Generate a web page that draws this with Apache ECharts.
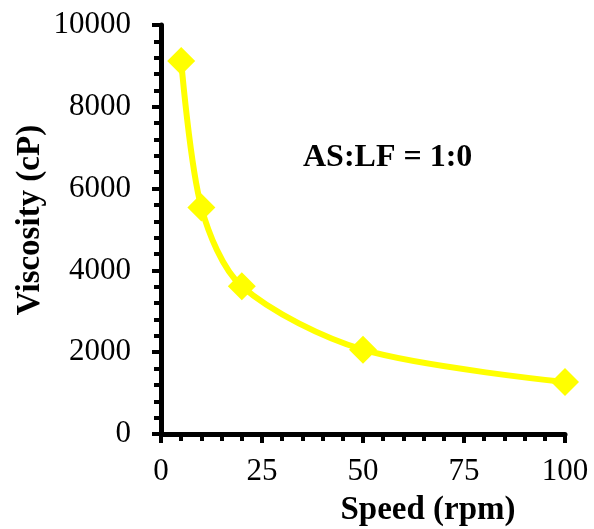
<!DOCTYPE html>
<html>
<head>
<meta charset="utf-8">
<script src="https://cdn.jsdelivr.net/npm/echarts@6/dist/echarts.min.js"></script>
<style>
  html, body { margin: 0; padding: 0; background: #fff; }
  #chart { width: 594px; height: 529px; }
</style>
</head>
<body>
<div id="chart"></div>
<script>
// speed (rpm) vs viscosity (cP)
var speeds = [5, 10, 20, 50, 100];
var viscosity = [9120, 5540, 3610, 2060, 1270];
var xTicks = [0, 25, 50, 75, 100];
var yTicks = [0, 2000, 4000, 6000, 8000, 10000];
var label = 'AS:LF = 1:0';

var font = 'Liberation Serif';
var chart = echarts.init(document.getElementById('chart'));

var points = speeds.map(function (s, i) { return [s, viscosity[i]]; });

function axisOpts(ticks, step, labelMargin) {
  return {
    type: 'value',
    min: ticks[0],
    max: ticks[ticks.length - 1],
    interval: step,
    splitLine: { show: false },
    minorSplitLine: { show: false },
    axisLine: { show: true, onZero: false, lineStyle: { color: '#000', width: 5 } },
    axisTick: { show: true, inside: false, length: 9, lineStyle: { color: '#000', width: 4 } },
    minorTick: { show: true, splitNumber: 5, length: 7, lineStyle: { color: '#000', width: 4 } },
    axisLabel: { color: '#000', fontFamily: font, fontSize: 31, margin: labelMargin,
                 formatter: function (v) { return String(v); } }
  };
}

chart.setOption({
  animation: false,
  backgroundColor: '#fff',
  grid: { left: 161, right: 29, top: 25, bottom: 95 },
  xAxis: axisOpts(xTicks, 25, 22),
  yAxis: axisOpts(yTicks, 2000, 30),
  graphic: [
    {
      type: 'text', left: 303, top: 142,
      style: { text: label, font: 'bold 32px "Liberation Serif"', fill: '#000' }
    },
    {
      type: 'text', x: 428, y: 510,
      style: { text: 'Speed (rpm)', font: 'bold 33px "Liberation Serif"', fill: '#000',
               align: 'center', verticalAlign: 'middle' }
    },
    {
      type: 'text', x: 30, y: 220, rotation: Math.PI / 2,
      style: { text: 'Viscosity (cP)', font: 'bold 33px "Liberation Serif"', fill: '#000',
               align: 'center', verticalAlign: 'middle' }
    }
  ],
  series: [{
    type: 'line',
    data: points,
    smooth: 0.3,
    symbol: 'diamond',
    symbolSize: 28,
    itemStyle: { color: '#ffff00' },
    lineStyle: { color: '#ffff00', width: 6 }
  }]
});
</script>
</body>
</html>
